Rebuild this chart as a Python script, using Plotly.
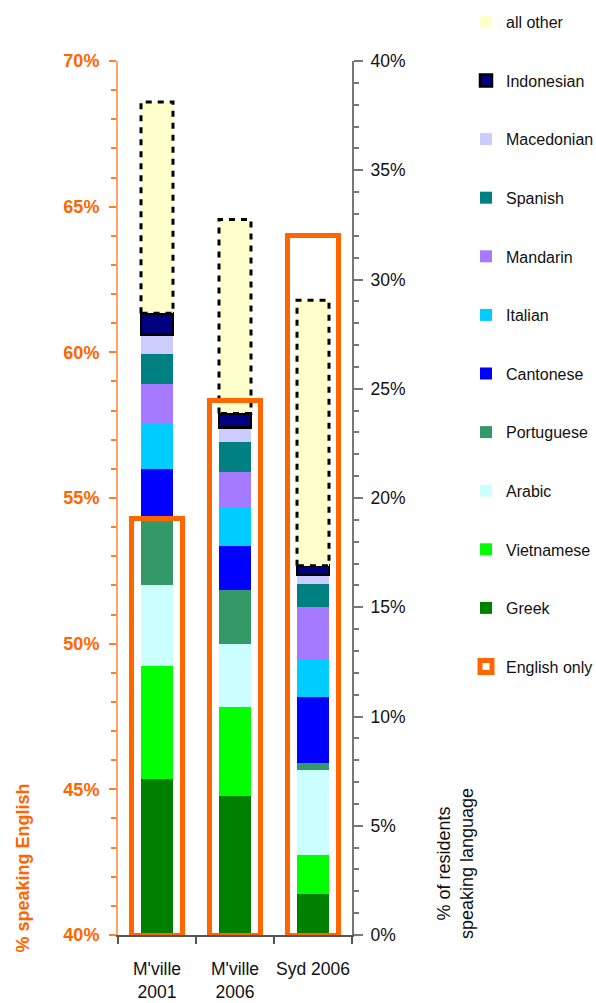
import plotly.graph_objects as go

categories = ["M'ville<br>2001", "M'ville<br>2006", "Syd 2006"]
x_pos = [0, 1, 2]

# stacked language shares (% of residents), bottom to top
greek      = [7.14, 6.36, 1.88]
vietnamese = [5.17, 4.09, 1.78]
arabic     = [3.72, 2.87, 3.89]
portuguese = [3.05, 2.47, 0.32]
cantonese  = [2.25, 2.01, 3.04]
italian    = [2.07, 1.77, 1.72]
mandarin   = [1.82, 1.62, 2.38]
spanish    = [1.37, 1.37, 1.05]
macedonian = [0.90, 0.67, 0.42]
indonesian = [0.96, 0.64, 0.42]
all_other  = [9.67, 8.88, 12.15]

english_only = [54.3, 58.35, 64.0]  # % speaking English only (left axis)

series = [
    ("Greek", greek, "#008000"),
    ("Vietnamese", vietnamese, "#00FF00"),
    ("Arabic", arabic, "#CCFFFF"),
    ("Portuguese", portuguese, "#339966"),
    ("Cantonese", cantonese, "#0000FF"),
    ("Italian", italian, "#00CCFF"),
    ("Mandarin", mandarin, "#A57AFF"),
    ("Spanish", spanish, "#008080"),
    ("Macedonian", macedonian, "#CCCCFF"),
    ("Indonesian", indonesian, "#000080"),
    ("all other", all_other, "#FFFFCC"),
]

BAR_W = 0.41
ENG_W = 0.65
FONT = "Liberation Sans, Arial, sans-serif"

# plot box in page pixels
PX_L, PX_R, PX_T, PX_B = 118, 352, 61, 935
W, H = 596, 1003

def paper_x(px):
    return (px - PX_L) / (PX_R - PX_L)

def paper_y(py):
    return (PX_B - py) / (PX_B - PX_T)

fig = go.Figure()
n = len(series)
for i, (name, vals, col) in enumerate(series):
    line = dict(width=2.5, color="black") if name == "Indonesian" else dict(width=0)
    fig.add_trace(go.Bar(
        x=x_pos, y=vals, width=BAR_W, name=name,
        marker=dict(color=col, line=line),
        yaxis="y", legendgroup=name, legendrank=n - i,
    ))

# dashed outline around "all other" segment
base_other = [sum(s[1][k] for s in series[:-1]) for k in range(3)]
ox, oy = [], []
for k in range(3):
    x0, x1 = x_pos[k] - BAR_W / 2, x_pos[k] + BAR_W / 2
    y0, y1 = base_other[k], base_other[k] + all_other[k]
    ox += [x0, x0, x1, x1, x0, None]
    oy += [y0, y1, y1, y0, y0, None]
fig.add_trace(go.Scatter(
    x=ox, y=oy, mode="lines", showlegend=False, hoverinfo="skip",
    line=dict(color="black", width=3, dash="6px,6px"), yaxis="y",
))

fig.add_trace(go.Bar(
    x=x_pos, y=[v - 40 for v in english_only], base=[40] * 3, width=ENG_W,
    name="English only", yaxis="y2",
    marker=dict(color="rgba(255,255,255,0)", line=dict(color="#FF6600", width=5)),
    legendgroup="English only", legendrank=n + 1,
))

fig.update_layout(
    width=W, height=H,
    margin=dict(l=PX_L, r=W - PX_R, t=PX_T, b=H - PX_B, autoexpand=False),
    paper_bgcolor="white", plot_bgcolor="white",
    barmode="stack",
    font=dict(family=FONT, color="#111111", size=16),
    xaxis=dict(
        range=[-0.5, 2.5], tickmode="array", tickvals=x_pos, ticktext=categories,
        ticks="", showgrid=False, zeroline=False,
        showline=True, linecolor="#555555", linewidth=2,
        tickfont=dict(size=17.5, color="#111111"), ticklabelstandoff=17,
        minor=dict(tickmode="array", tickvals=[-0.5, 0.5, 1.5, 2.5], ticks="outside",
                   ticklen=7, tickcolor="#555555", tickwidth=1.5),
    ),
    yaxis=dict(
        side="right", range=[0, 40], dtick=5, ticksuffix="%",
        showgrid=False, zeroline=False,
        showline=True, linecolor="#777777", linewidth=2,
        ticks="outside", ticklen=9, tickcolor="#777777", tickwidth=1.5,
        tickfont=dict(size=17.5, color="#111111"), ticklabelstandoff=4,
        minor=dict(dtick=1, ticks="outside", ticklen=5, tickcolor="#777777", tickwidth=1.5),
    ),
    yaxis2=dict(
        overlaying="y", side="left", range=[40, 70], dtick=5, ticksuffix="%",
        showgrid=False, zeroline=False,
        showline=True, linecolor="#FFA366", linewidth=2,
        ticks="outside", ticklen=7, tickcolor="#FF7F2A", tickwidth=1.5,
        tickfont=dict(size=18, color="#FF6600", weight="bold"), ticklabelstandoff=6,
        minor=dict(dtick=1, ticks="outside", ticklen=5, tickcolor="#FF7F2A", tickwidth=1.5),
    ),
    legend=dict(
        xref="paper", yref="paper", x=paper_x(466), y=paper_y(5),
        xanchor="left", yanchor="top", maxheight=1000,
        font=dict(size=16, color="#111111"),
        tracegroupgap=34.8, bgcolor="rgba(0,0,0,0)",
    ),
    annotations=[
        dict(text="% speaking English", textangle=-90, xref="paper", yref="paper",
             x=paper_x(22.5), y=paper_y(868), xanchor="center", yanchor="middle",
             showarrow=False, font=dict(size=18, color="#FF6600", weight="bold")),
        dict(text="% of residents<br>speaking language", textangle=-90, xref="paper", yref="paper",
             x=paper_x(455), y=paper_y(864), xanchor="center", yanchor="middle",
             showarrow=False, font=dict(size=18, color="#111111")),
    ],
)

fig.write_html(
    "out.html",
    config={"displayModeBar": False},
    post_script="document.body.style.margin='0';document.body.style.overflow='hidden';",
)
